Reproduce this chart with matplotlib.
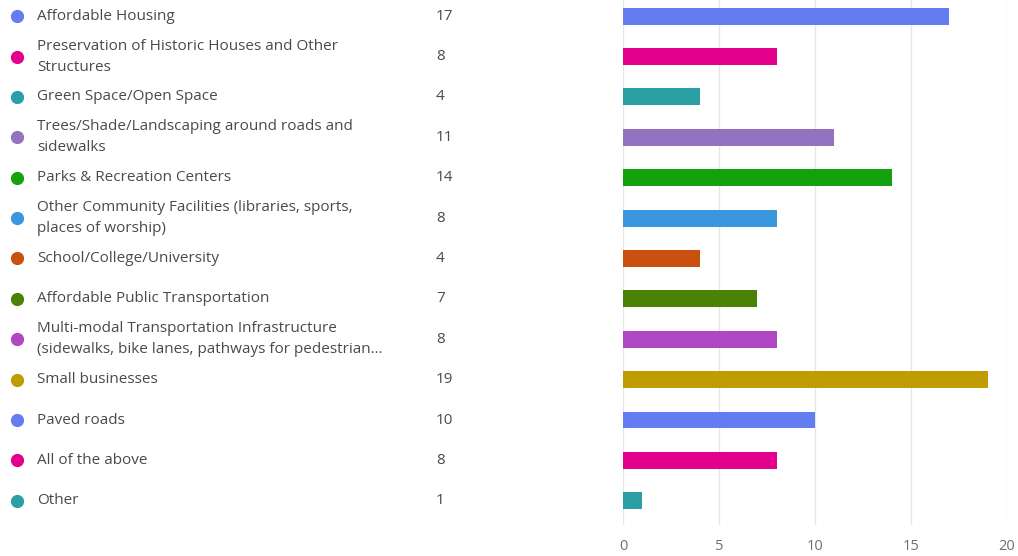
import matplotlib.pyplot as plt
import matplotlib.transforms as mtransforms

categories = [
    "Affordable Housing",
    "Preservation of Historic Houses and Other\nStructures",
    "Green Space/Open Space",
    "Trees/Shade/Landscaping around roads and\nsidewalks",
    "Parks & Recreation Centers",
    "Other Community Facilities (libraries, sports,\nplaces of worship)",
    "School/College/University",
    "Affordable Public Transportation",
    "Multi-modal Transportation Infrastructure\n(sidewalks, bike lanes, pathways for pedestrian\u2026",
    "Small businesses",
    "Paved roads",
    "All of the above",
    "Other",
]
counts = [17, 8, 4, 11, 14, 8, 4, 7, 8, 19, 10, 8, 1]
colors = ["#637CEF", "#E3008C", "#2AA0A4", "#9373C0", "#13A10E", "#3A96DD",
          "#CA5010", "#498205", "#B146C2", "#C19C00", "#637CEF", "#E3008C",
          "#2AA0A4"]
xticks = [0, 5, 10, 15, 20]

plt.rcParams['font.family'] = ['Open Sans', 'DejaVu Sans']

fig = plt.figure(figsize=(10.18, 5.56), dpi=100)
ax = fig.add_axes([623 / 1018, 31 / 556, 384 / 1018, 525 / 556])

rows = list(range(len(categories)))
ax.barh(rows, counts, height=0.42, color=colors, zorder=3)
ax.set_ylim(len(categories) - 0.4, -0.4)
ax.set_xlim(0, 20)
ax.set_xticks(xticks)
ax.set_yticks([])
ax.grid(axis='x', color='#e6e6e6', linewidth=1, zorder=0)
for s in ax.spines.values():
    s.set_visible(False)
ax.tick_params(axis='x', length=0, pad=10, labelsize=10.5, labelcolor='#707070')

trans = mtransforms.blended_transform_factory(fig.transFigure, ax.transData)
for i, (lab, c, col) in enumerate(zip(categories, counts, colors)):
    ax.plot([17 / 1018], [i], marker='o', markersize=8.5, color=col,
            transform=trans, clip_on=False)
    ax.text(37 / 1018, i, lab, transform=trans, va='center', ha='left',
            fontsize=11, color='#4a4a4a', linespacing=1.55)
    ax.text(436 / 1018, i, str(c), transform=trans, va='center', ha='left',
            fontsize=11, color='#4a4a4a')

fig.savefig('out.png', dpi=100)
